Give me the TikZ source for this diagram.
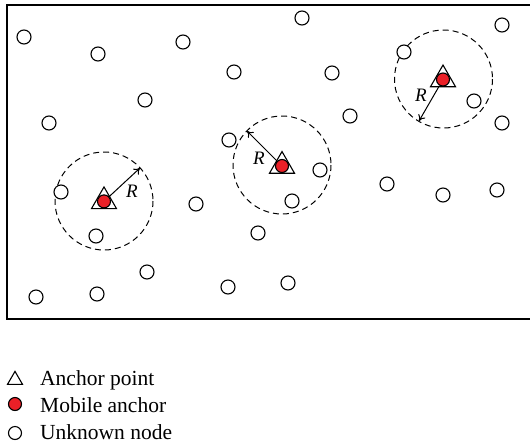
\documentclass[tikz,border=0pt]{standalone}
\usepackage{fontspec}
\setmainfont{Liberation Serif}
\usetikzlibrary{shapes.geometric,arrows.meta}
\definecolor{anchorred}{RGB}{234,32,39}
\tikzset{
  unode/.style={circle,draw,fill=white,line width=1.1pt,minimum size=14pt,inner sep=0pt},
  mobnode/.style={circle,draw,fill=anchorred,line width=1.1pt,minimum size=13pt,inner sep=0pt},
  anctri/.style={regular polygon,regular polygon sides=3,draw,fill=white,line width=1.1pt,minimum size=28.9pt,inner sep=0pt},
  legtri/.style={regular polygon,regular polygon sides=3,draw,fill=white,line width=1.1pt,minimum size=17.3pt,inner sep=0pt},
  rangecirc/.style={draw,dash pattern=on 6pt off 4pt,line width=1pt},
  rarrow/.style={-{To[length=6pt,width=8pt]},line width=1pt},
  rlabel/.style={font=\fontsize{19}{21}\selectfont\itshape,inner sep=0pt},
  legtext/.style={font=\fontsize{21.5}{25}\selectfont,anchor=base west,inner sep=0pt},
  frameline/.style={line width=1.4pt}
}
\begin{document}
\begin{tikzpicture}[x=1pt,y=-1pt]
\useasboundingbox (0,0) rectangle (530,445);
\draw[frameline] (540,5) -- (7,5) -- (7,319) -- (540,319);
% coverage ranges
\draw[rangecirc] (104,201) circle[radius=49];
\draw[rangecirc] (282,165) circle[radius=49];
\draw[rangecirc] (443.5,79) circle[radius=49];
% unknown nodes
\foreach \px/\py [count=\i] in {24/37,98/54,183/42,234/72,145/100,49/123,229/140,302/18,502/25,404/52,332/73,474/101,350/116,502/123,61/192,196/204,96/236,258/233,147/272,36/297,97/294,228/287,320/170,292/201,387/184,443/195,497/190,288/283}
  \node[unode] (u\i) at (\px,\py) {};
% anchors
\node[anctri] (a1) at (104,201.4) {};
\node[mobnode] (m1) at (104,201.4) {};
\node[anctri] (a2) at (282,166) {};
\node[mobnode] (m2) at (282,166) {};
\node[anctri] (a3) at (443,79.5) {};
\node[mobnode] (m3) at (443,79.5) {};
% radius arrows
\coordinate (e1) at (140,168);
\coordinate (e2) at (247,131);
\coordinate (e3) at (419,121);
\draw[rarrow] (m1) -- (e1);
\draw[rarrow] (m2) -- (e2);
\draw[rarrow] (m3) -- (e3);
\node[rlabel] (r1) at (132,191) {R};
\node[rlabel] (r2) at (259,158) {R};
\node[rlabel] (r3) at (421,95) {R};
% legend
\node[legtri] (l1) at (15,380) {};
\node[mobnode] (l2) at (15,404) {};
\node[unode,minimum size=13pt] (l3) at (15,433) {};
\node[legtext] (t1) at (40,385) {Anchor point};
\node[legtext] (t2) at (40,412) {Mobile anchor};
\node[legtext] (t3) at (40,439) {Unknown node};
\end{tikzpicture}
\end{document}
